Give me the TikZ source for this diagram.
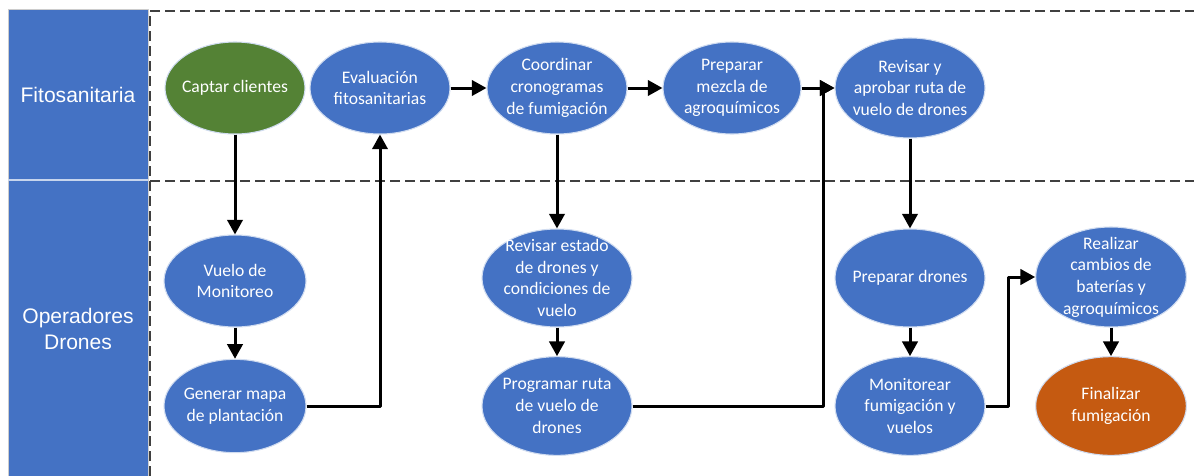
\documentclass[tikz,border=0pt]{standalone}
\usepackage{fontspec}
\setmainfont{Carlito}
\newfontfamily\lanefont{Liberation Sans}
\usetikzlibrary{shapes.geometric,arrows.meta}
\definecolor{blueA}{HTML}{4472C4}
\definecolor{greenA}{HTML}{548235}
\definecolor{orangeA}{HTML}{C55A11}
\definecolor{dashA}{HTML}{404040}
\begin{document}
\begin{tikzpicture}[x=0.75pt, y=-0.75pt, line join=round,
		el/.style={ellipse, fill=blueA, draw=white!75!blueA, line width=0.8pt, inner sep=0pt},
		tx/.style={text=white, align=center, inner sep=0pt, font=\fontsize{13.2}{16.3}\selectfont},
		lane/.style={text=white, align=center, font=\lanefont\fontsize{15.8}{19}\selectfont},
		arr/.style={line width=2.25pt, -{Triangle[length=11pt,width=11.5pt]}},
		sep/.style={dashA, line width=1.1pt, dash pattern=on 7.5pt off 3.75pt}]
	\useasboundingbox (0,0) rectangle (1194,475);
	\fill[white] (0,0) rectangle (1194,475);
	
	% lanes
	\filldraw[fill=blueA, draw=gray!40] (8,9) rectangle (148,476);
	\draw[white!70!blueA, line width=1pt] (8,180) -- (148,180);
	\node[lane] (fito) at (78,95) {Fitosanitaria};
	\node[lane] (oper) at (78,329) {Operadores\\Drones};
	\draw[sep] (150,476) -- (150,11) -- (1194,11);
	\draw[sep] (150,181) -- (1194,181);
	
	% fitosanitaria
	\node[el, fill=greenA, minimum width=105pt, minimum height=69pt,
		label={[tx]center:{Captar clientes}}] (cap) at (235,88) {};
	\node[el, minimum width=105pt, minimum height=69pt,
		label={[tx]center:{Evaluación\\fitosanitarias}}] (eva) at (380,88) {};
	\node[el, minimum width=105pt, minimum height=69pt,
		label={[tx]center:{Coordinar\\cronogramas\\de fumigación}}] (coo) at (557,88) {};
	\node[el, minimum width=103.5pt, minimum height=69pt,
		label={[tx]center:{Preparar\\mezcla de\\agroquímicos}}] (mez) at (732,88) {};
	\node[el, minimum width=112.5pt, minimum height=75pt,
		label={[tx]center:{Revisar y\\aprobar ruta de\\vuelo de drones}}] (rev) at (910,88) {};
	
	% operadores
	\node[el, minimum width=106.5pt, minimum height=69pt,
		label={[tx]center:{Vuelo de\\Monitoreo}}] (vue) at (235,281) {};
	\node[el, minimum width=106.5pt, minimum height=70pt,
		label={[tx]center:{Generar mapa\\de plantación}}] (gen) at (235,406) {};
	\node[el, minimum width=112.5pt, minimum height=73.5pt,
		label={[tx]center:{Revisar estado\\de drones y\\condiciones de\\vuelo}}] (est) at (557,278) {};
	\node[el, minimum width=112.5pt, minimum height=74pt,
		label={[tx]center:{Programar ruta\\de vuelo de\\drones}}] (pro) at (557,406) {};
	\node[el, minimum width=112.5pt, minimum height=73.5pt,
		label={[tx]center:{Preparar drones}}] (pdr) at (910,278) {};
	\node[el, minimum width=112.5pt, minimum height=74pt,
		label={[tx]center:{Monitorear\\fumigación y\\vuelos}}] (mon) at (910,406) {};
	\node[el, minimum width=113pt, minimum height=75pt,
		label={[tx]center:{Realizar\\cambios de\\baterías y\\agroquímicos}}] (rea) at (1111,277) {};
	\node[el, fill=orangeA, minimum width=113pt, minimum height=74pt,
		label={[tx]center:{Finalizar\\fumigación}}] (fin) at (1111,406) {};
	
	\coordinate (jr) at (823,88);
	\coordinate (jm) at (1008,277);
	
	% flechas
	\draw[arr] (cap) -- (vue);
	\draw[arr] (vue) -- (gen);
	\draw[arr] (gen) -| (eva);
	\draw[arr] (eva) -- (coo);
	\draw[arr] (coo) -- (mez);
	\draw[arr] (mez) -- (rev);
	\draw[arr] (coo) -- (est);
	\draw[arr] (est) -- (pro);
	\draw[arr] (pro) -| (jr) -- (rev);
	\draw[arr] (rev) -- (pdr);
	\draw[arr] (pdr) -- (mon);
	\draw[arr] (mon) -| (jm) -- (rea);
	\draw[arr] (rea) -- (fin);
\end{tikzpicture}
\end{document}
